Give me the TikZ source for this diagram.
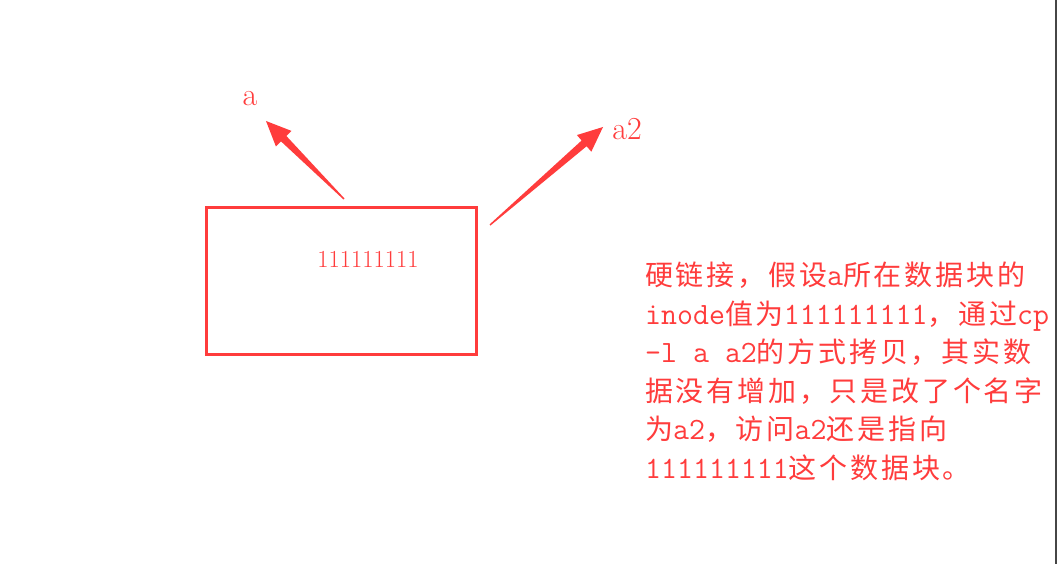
\documentclass[tikz,border=0pt]{standalone}
\usepackage{fontspec}
\newfontfamily\cjk[LetterSpace=10]{Noto Sans CJK SC}
\usepackage{tikz}
\usetikzlibrary{calc}
\definecolor{markred}{RGB}{255,60,60}
\definecolor{edgegray}{RGB}{70,70,70}
\newcommand{\mono}[1]{{\ttfamily\fontsize{31}{38.5}\selectfont #1}}
% tapered arrow from a thin tail to a wide head
\newcommand{\fatarrow}[2]{%
  \coordinate (hb) at ($(#2)!25pt!(#1)$);
  \fill[markred] ($(#1)!0.7pt!90:(#2)$) -- ($(hb)!3.8pt!90:(#2)$)
    -- ($(hb)!11pt!90:(#2)$) -- (#2) -- ($(hb)!11pt!-90:(#2)$)
    -- ($(hb)!3.8pt!-90:(#2)$) -- ($(#1)!0.7pt!-90:(#2)$) -- cycle;
}
\tikzset{
blockbox/.style={
  draw=markred,
  line width=3pt,
  minimum width=270pt,
  minimum height=147pt,
  inner sep=0pt
},
namelabel/.style={
  text=markred,
  font=\fontsize{32}{36}\selectfont,
  inner sep=0pt
},
numlabel/.style={
  text=markred,
  font=\fontsize{24.5}{28}\selectfont,
  inner sep=0pt
},
notetext/.style={
  text=markred,
  align=left,
  inner sep=0pt,
  font=\cjk\fontsize{28}{38.5}\selectfont
}
}

\begin{document}
\begin{tikzpicture}[x=1pt,y=-1pt]
  \useasboundingbox (0,0) rectangle (1058,564);
  \fill[white] (0,0) rectangle (1058,564);
  \draw[edgegray, line width=1.5pt] (1056,0) -- (1056,564);

  \node[blockbox] (block) at (341.5,281) {};
  \node[numlabel] (inum) at (368,259) {111111111};

  \node[namelabel] (la) at (250,99) {a};
  \node[namelabel] (la2) at (627,129) {a2};

  \coordinate (taila) at (344,199);
  \coordinate (tipa) at (266,121);
  \coordinate (taila2) at (490,225);
  \coordinate (tipa2) at (603,127);
  \fatarrow{taila}{tipa}
  \fatarrow{taila2}{tipa2}

  \node[notetext, anchor=north west] (note) at (645,262) {硬链接，假设\mono{a}所在数据块的\\
    \mono{inode}值为\mono{111111111}，通过\mono{cp}\\
    \mono{-l a a2}的方式拷贝，其实数\\
    据没有增加，只是改了个名字\\
    为\mono{a2}，访问\mono{a2}还是指向\\
    \mono{111111111}这个数据块。};
\end{tikzpicture}
\end{document}
